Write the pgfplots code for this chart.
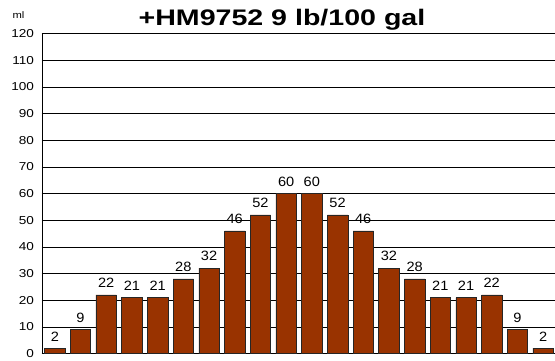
\documentclass[border=0pt]{standalone}
\usepackage{fontspec}
\setmainfont{Liberation Sans}
\newfontfamily\titlefont[FakeStretch=1.27]{Liberation Sans}
\newfontfamily\tickfont[FakeStretch=1.18]{Liberation Sans}
\newfontfamily\labfont[FakeStretch=1.08]{Liberation Sans}
\usepackage{pgfplots}
\pgfplotsset{compat=1.18}
\definecolor{barbrown}{HTML}{993300}
\begin{document}
\begin{tikzpicture}[x=1pt,y=1pt]
\useasboundingbox (-42,-6.5) rectangle (513,353.5);
\begin{axis}[
  at={(0,0)}, anchor=south west,
  scale only axis,
  width=514pt, height=320pt,
  xmin=-0.5, xmax=19.5,
  ymin=0, ymax=120,
  ytick={0,10,...,120},
  xtick=\empty,
  ymajorgrids,
  grid style={black, line width=0.6pt},
  axis x line*=bottom,
  axis y line*=left,
  axis line style={black, line width=0.8pt, -},
  tick style={black, line width=0.6pt},
  major tick length=4pt,
  y tick label style={font=\tickfont\fontsize{11.5}{13}\selectfont, xshift=-4.5pt},
  /pgf/number format/assume math mode=true,
  ybar, bar width=20.5pt,
  clip=false,
  nodes near coords,
  every node near coord/.append style={font=\labfont\fontsize{13.5}{15}\selectfont, yshift=3.5pt, black},
]
\addplot[fill=barbrown, draw=black!85, line width=0.6pt] coordinates {
(0,2) (1,9) (2,22) (3,21) (4,21) (5,28) (6,32) (7,46) (8,52) (9,60)
(10,60) (11,52) (12,46) (13,32) (14,28) (15,21) (16,21) (17,22) (18,9) (19,2)
};
\end{axis}
\node[anchor=base, font=\titlefont\bfseries\fontsize{22.5}{26}\selectfont] at (240,327.5) {+HM9752 9 lb/100 gal};
\node[anchor=base, font=\tickfont\fontsize{9.5}{11}\selectfont] at (-23.5,334.5) {ml};
\end{tikzpicture}
\end{document}
